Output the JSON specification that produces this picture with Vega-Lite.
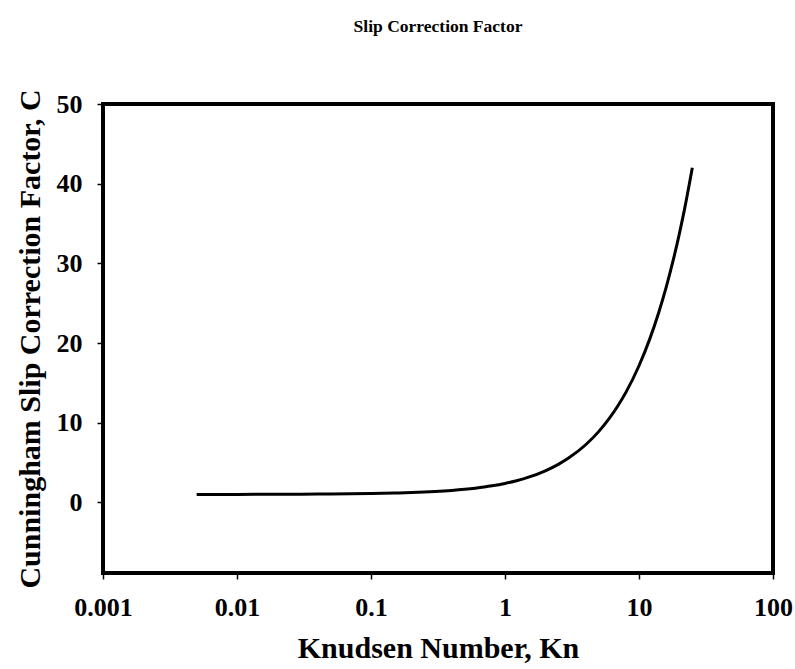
{
  "$schema": "https://vega.github.io/schema/vega-lite/v6.json",
  "autosize": "none",
  "width": 670,
  "height": 469,
  "padding": {"left": 103, "top": 104, "right": 22, "bottom": 96},
  "background": "white",
  "title": {
    "text": "Slip Correction Factor",
    "font": "Liberation Serif",
    "fontSize": 17.5,
    "fontWeight": "bold",
    "color": "black",
    "offset": 53,
    "anchor": "middle"
  },
  "config": {
    "view": {"stroke": "black", "strokeWidth": 4},
    "axis": {
      "labelFont": "Liberation Serif",
      "labelFontSize": 26,
      "labelFontWeight": "bold",
      "labelColor": "black",
      "titleFont": "Liberation Serif",
      "titleFontSize": 30,
      "titleFontWeight": "bold",
      "titleColor": "black",
      "grid": false,
      "domain": false,
      "tickColor": "black",
      "tickWidth": 1.5,
      "tickSize": 6
    }
  },
  "data": {
    "values": [
      {"Kn": 0.005, "C": 1.0063},
      {"Kn": 0.01, "C": 1.0126},
      {"Kn": 0.02, "C": 1.0251},
      {"Kn": 0.03, "C": 1.0377},
      {"Kn": 0.05, "C": 1.0629},
      {"Kn": 0.07, "C": 1.088},
      {"Kn": 0.1, "C": 1.1257},
      {"Kn": 0.15, "C": 1.1886},
      {"Kn": 0.2, "C": 1.2517},
      {"Kn": 0.3, "C": 1.3802},
      {"Kn": 0.4, "C": 1.513},
      {"Kn": 0.5, "C": 1.6507},
      {"Kn": 0.6, "C": 1.7926},
      {"Kn": 0.7, "C": 1.9381},
      {"Kn": 0.8, "C": 2.0865},
      {"Kn": 1, "C": 2.3902},
      {"Kn": 1.2, "C": 2.7003},
      {"Kn": 1.5, "C": 3.1737},
      {"Kn": 2, "C": 3.9756},
      {"Kn": 2.5, "C": 4.7865},
      {"Kn": 3, "C": 5.6026},
      {"Kn": 4, "C": 7.243},
      {"Kn": 5, "C": 8.89},
      {"Kn": 6, "C": 10.54},
      {"Kn": 7, "C": 12.192},
      {"Kn": 8, "C": 13.845},
      {"Kn": 10, "C": 17.153},
      {"Kn": 12, "C": 20.464},
      {"Kn": 14, "C": 23.775},
      {"Kn": 16, "C": 27.087},
      {"Kn": 18, "C": 30.399},
      {"Kn": 20, "C": 33.712},
      {"Kn": 22, "C": 37.025},
      {"Kn": 25, "C": 41.995}
    ]
  },
  "mark": {"type": "line", "color": "black", "strokeWidth": 3, "interpolate": "monotone"},
  "encoding": {
    "x": {
      "field": "Kn",
      "type": "quantitative",
      "scale": {"type": "log", "domain": [0.001, 100], "nice": false},
      "axis": {
        "title": "Knudsen Number, Kn",
        "values": [0.001, 0.01, 0.1, 1, 10, 100],
        "format": "~g",
        "labelPadding": 15,
        "titlePadding": 13,
        "labelFlush": false
      }
    },
    "y": {
      "field": "C",
      "type": "quantitative",
      "scale": {"domain": [-8.85, 50], "nice": false, "zero": false},
      "axis": {
        "title": "Cunningham Slip Correction Factor, C",
        "values": [0, 10, 20, 30, 40, 50],
        "labelPadding": 15,
        "titlePadding": 11,
        "labelFlush": false
      }
    }
  }
}
